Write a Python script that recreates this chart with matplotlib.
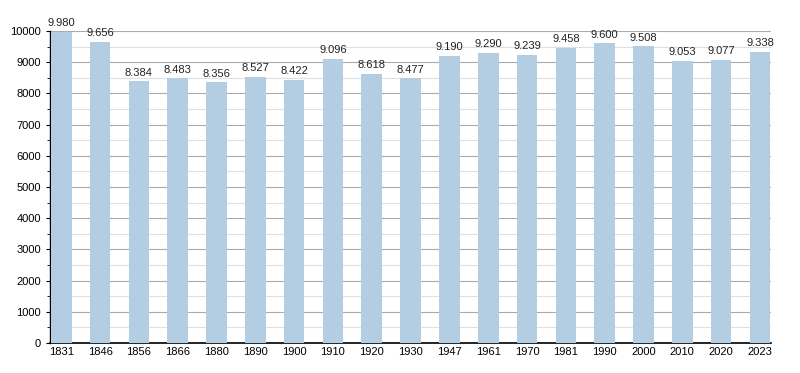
import matplotlib.pyplot as plt
from matplotlib.ticker import MultipleLocator

years = ['1831', '1846', '1856', '1866', '1880', '1890', '1900', '1910', '1920', '1930',
         '1947', '1961', '1970', '1981', '1990', '2000', '2010', '2020', '2023']
population = [9980, 9656, 8384, 8483, 8356, 8527, 8422, 9096, 8618, 8477,
              9190, 9290, 9239, 9458, 9600, 9508, 9053, 9077, 9338]

plt.rcParams['font.family'] = ['Liberation Sans', 'DejaVu Sans']

fig = plt.figure(figsize=(8, 3.73), dpi=100)
ax = fig.add_axes([0.0625, 0.0804, 0.9015, 0.8366])

x = range(len(years))
ax.bar(x, population, width=0.53, color='#b3cde3', zorder=3)

for i, v in enumerate(population):
    label = '{:,}'.format(v).replace(',', '.')
    ax.text(i, v + 120, label, ha='center', va='bottom', fontsize=8, color='#222222')

ax.set_xlim(-0.29, len(years) - 1 + 0.29)
ax.set_ylim(0, 10000)
ax.set_xticks(list(x))
ax.set_xticklabels(years, fontsize=8)
ax.yaxis.set_major_locator(MultipleLocator(1000))
ax.yaxis.set_minor_locator(MultipleLocator(500))
ax.tick_params(axis='y', labelsize=8, length=3, direction='out')
ax.tick_params(axis='y', which='minor', length=2)
ax.tick_params(axis='x', length=0, pad=3)

ax.grid(axis='y', which='major', color='#aaaaaa', linewidth=0.8, zorder=0)
ax.grid(axis='y', which='minor', color='#e0e0e0', linewidth=0.8, zorder=0)

for s in ['top', 'right']:
    ax.spines[s].set_visible(False)
ax.spines['left'].set_linewidth(1)
ax.spines['bottom'].set_linewidth(1.2)

fig.savefig('out.png', dpi=100)
